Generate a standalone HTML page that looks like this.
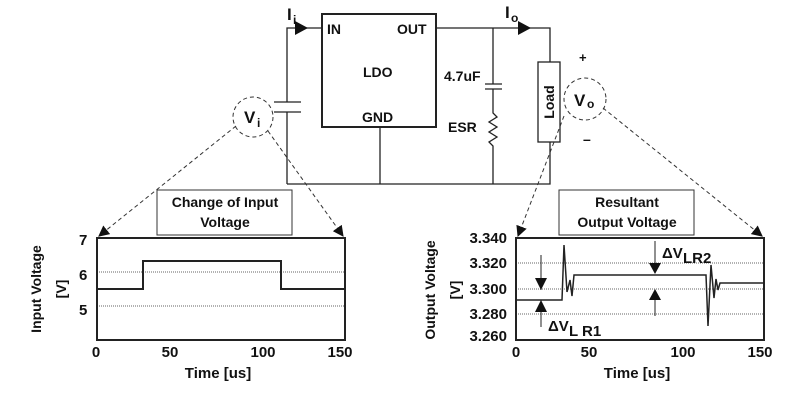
<!DOCTYPE html>
<html><head><style>body{margin:0;background:#fff}svg{display:block}text{font-family:"Liberation Sans",sans-serif;font-weight:bold;fill:#111}</style></head>
<body>
<svg width="787" height="400" viewBox="0 0 787 400" xmlns="http://www.w3.org/2000/svg">
<defs><marker id="ah" viewBox="0 0 10 10" refX="9" refY="5" markerWidth="11" markerHeight="11" markerUnits="userSpaceOnUse" orient="auto"><path d="M0,0L10,5L0,10z" fill="#111"/></marker></defs>
<g stroke="#222" fill="none" stroke-width="1.3">
<rect x="322" y="14" width="114" height="113" stroke-width="2"/>
<polyline points="322,28 287,28 287,102"/>
<line x1="287" y1="112" x2="287" y2="184"/>
<line x1="274" y1="102" x2="301" y2="102"/><line x1="274" y1="112" x2="301" y2="112"/>
<polyline points="436,28 550,28 550,62"/>
<rect x="538" y="62" width="22" height="80"/>
<polyline points="550,142 550,184 287,184"/>
<line x1="380" y1="127" x2="380" y2="184"/>
<line x1="493" y1="28" x2="493" y2="84"/>
<line x1="485" y1="84" x2="502" y2="84"/><line x1="485" y1="89" x2="502" y2="89"/>
<polyline points="493,89 493,113 497,117 489,122 497,127 489,132 497,137 489,142 493,146 493,184"/>
</g>
<path d="M295,21L308,28L295,35z" fill="#111"/>
<path d="M518,21L531,28L518,35z" fill="#111"/>
<g stroke="#333" fill="none" stroke-width="1" stroke-dasharray="4,3">
<circle cx="253" cy="117" r="20"/><circle cx="585" cy="99" r="21"/>
<line x1="236" y1="126" x2="99" y2="236" marker-end="url(#ah)"/>
<line x1="268" y1="131" x2="343" y2="236" marker-end="url(#ah)"/>
<line x1="564" y1="116" x2="518" y2="236" marker-end="url(#ah)"/>
<line x1="603" y1="108" x2="762" y2="236" marker-end="url(#ah)"/>
</g>
<text x="287" y="20" font-size="17">I</text><text x="293" y="24" font-size="12">i</text>
<text x="505" y="18" font-size="17">I</text><text x="511" y="22" font-size="12">o</text>
<text x="327" y="34" font-size="14">IN</text>
<text x="397" y="34" font-size="14">OUT</text>
<text x="363" y="77" font-size="14">LDO</text>
<text x="362" y="122" font-size="14">GND</text>
<text x="444" y="81" font-size="14">4.7uF</text>
<text x="448" y="132" font-size="14">ESR</text>
<text transform="translate(554,102) rotate(-90)" text-anchor="middle" font-size="14">Load</text>
<text x="244" y="123" font-size="17">V</text><text x="257" y="127" font-size="12">i</text>
<text x="574" y="106" font-size="17">V</text><text x="587" y="108" font-size="12">o</text>
<text x="579" y="62" font-size="13">+</text>
<text x="583" y="144" font-size="14">–</text>
<rect x="157" y="190" width="135" height="45" fill="#fff" stroke="#333"/>
<text x="225" y="207" font-size="14" text-anchor="middle">Change of Input</text>
<text x="225" y="227" font-size="14" text-anchor="middle">Voltage</text>
<g stroke="#333" stroke-width="0.8" stroke-dasharray="1,1"><line x1="97" y1="272" x2="345" y2="272"/><line x1="97" y1="306" x2="345" y2="306"/></g>
<rect x="97" y="238" width="248" height="102" fill="none" stroke="#222" stroke-width="2"/>
<polyline points="97,289 143,289 143,261 281,261 281,289 345,289" fill="none" stroke="#222" stroke-width="2"/>
<text x="79" y="245" font-size="15">7</text><text x="79" y="280" font-size="15">6</text><text x="79" y="315" font-size="15">5</text>
<text x="96" y="357" font-size="15" text-anchor="middle">0</text><text x="170" y="357" font-size="15" text-anchor="middle">50</text>
<text x="263" y="357" font-size="15" text-anchor="middle">100</text><text x="340" y="357" font-size="15" text-anchor="middle">150</text>
<text x="218" y="378" font-size="15" text-anchor="middle">Time [us]</text>
<text transform="translate(41,289) rotate(-90)" font-size="14" text-anchor="middle">Input Voltage</text>
<text transform="translate(66,289) rotate(-90)" font-size="14" text-anchor="middle">[V]</text>
<rect x="559" y="190" width="135" height="45" fill="#fff" stroke="#333"/>
<text x="627" y="207" font-size="14" text-anchor="middle">Resultant</text>
<text x="627" y="227" font-size="14" text-anchor="middle">Output Voltage</text>
<g stroke="#333" stroke-width="0.8" stroke-dasharray="1,1"><line x1="516" y1="263" x2="764" y2="263"/><line x1="516" y1="289" x2="764" y2="289"/><line x1="516" y1="314" x2="764" y2="314"/></g>
<rect x="516" y="238" width="248" height="102" fill="none" stroke="#222" stroke-width="2"/>
<polyline points="516,300 562,300 564,245 567,292 570,280 572,296 574,275 706,275 708,326 711,265 714,298 716,279 718,290 720,283 764,283" fill="none" stroke="#222" stroke-width="1.5"/>
<g stroke="#222" stroke-width="1"><line x1="541" y1="255" x2="541" y2="290"/><line x1="541" y1="300" x2="541" y2="327"/><line x1="655" y1="241" x2="655" y2="270"/><line x1="655" y1="290" x2="655" y2="316"/></g>
<path d="M535,278L547,278L541,290z M535,312L547,312L541,300z M649,263L661,263L655,274z M649,300L661,300L655,289z" fill="#111"/>
<text x="548" y="331" font-size="15">ΔV</text><text x="569" y="336" font-size="15">L R1</text>
<text x="662" y="258" font-size="15">ΔV</text><text x="683" y="263" font-size="15">LR2</text>
<text x="507" y="243" font-size="15" text-anchor="end">3.340</text>
<text x="507" y="268" font-size="15" text-anchor="end">3.320</text>
<text x="507" y="294" font-size="15" text-anchor="end">3.300</text>
<text x="507" y="319" font-size="15" text-anchor="end">3.280</text>
<text x="507" y="341" font-size="15" text-anchor="end">3.260</text>
<text x="516" y="357" font-size="15" text-anchor="middle">0</text><text x="589" y="357" font-size="15" text-anchor="middle">50</text>
<text x="683" y="357" font-size="15" text-anchor="middle">100</text><text x="760" y="357" font-size="15" text-anchor="middle">150</text>
<text x="637" y="378" font-size="15" text-anchor="middle">Time [us]</text>
<text transform="translate(435,290) rotate(-90)" font-size="14" text-anchor="middle">Output Voltage</text>
<text transform="translate(460,290) rotate(-90)" font-size="14" text-anchor="middle">[V]</text>
</svg>
</body></html>
